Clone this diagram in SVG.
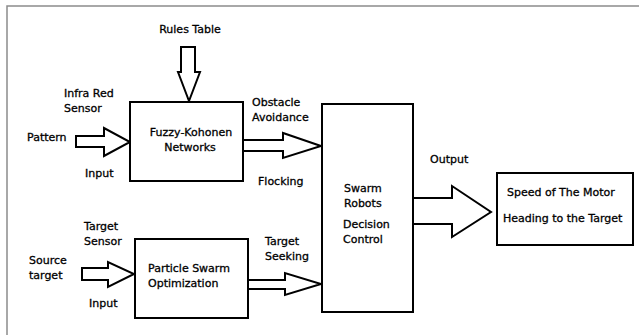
<svg xmlns="http://www.w3.org/2000/svg" width="639" height="335" viewBox="0 0 639 335">
  <style>
    .box { fill: #ffffff; stroke: #000000; stroke-width: 2; }
    .arrow { fill: #ffffff; stroke: #000000; stroke-width: 2; stroke-linejoin: miter; }
    text { font-family: "DejaVu Sans", "Liberation Sans", sans-serif; font-size: 11px; fill: #000000; stroke: #000000; stroke-width: 0.3; }
    .c { text-anchor: middle; }
    .frame { fill: none; stroke: #8c8c8c; stroke-width: 1.5; }
  </style>
  <rect width="639" height="335" fill="#ffffff"/>
  <!-- page frame -->
  <polyline class="frame" points="7,335 7,6 639,6"/>

  <!-- block arrows -->
  <g id="connectors">
    <polygon class="arrow" points="181,47 195,47 195,72 200,72 189,101 178,72 181,72"/>
    <polygon class="arrow" points="76,136 104,136 104,128 130,142 104,156 104,147 76,147"/>
    <polygon class="arrow" points="243,140 283,140 283,133 321,146 283,158 283,151 243,151"/>
    <polygon class="arrow" points="82,268 108,268 108,262 134,274 108,287 108,280 82,280"/>
    <polygon class="arrow" points="248,280 285,280 285,273 321,284 285,295 285,289 248,289"/>
    <polygon class="arrow" points="413,198 452,198 452,186 491,212 452,237 452,224 413,224"/>
  </g>

  <g id="fuzzy-kohonen">
    <rect class="box" x="130" y="102" width="113" height="79"/>
    <text class="c" x="191" y="136">Fuzzy-Kohonen</text>
    <text class="c" x="190" y="151">Networks</text>
  </g>

  <g id="pso">
    <rect class="box" x="135" y="239" width="113" height="79"/>
    <text x="148" y="272">Particle Swarm</text>
    <text x="148" y="287">Optimization</text>
  </g>

  <g id="swarm-robots">
    <rect class="box" x="322" y="104" width="91" height="208"/>
    <text x="344" y="192">Swarm</text>
    <text x="344" y="207">Robots</text>
    <text x="343" y="228">Decision</text>
    <text x="343" y="243">Control</text>
  </g>

  <g id="motor-output">
    <rect class="box" x="497" y="173" width="136" height="72"/>
    <text x="507" y="196">Speed of The Motor</text>
    <text x="503" y="222">Heading to the Target</text>
  </g>

  <!-- labels -->
  <g id="labels">
    <text class="c" x="190" y="33">Rules Table</text>
    <text x="64" y="97">Infra Red</text>
    <text x="64" y="112">Sensor</text>
    <text x="27" y="141">Pattern</text>
    <text x="85" y="177">Input</text>
    <text x="252" y="106">Obstacle</text>
    <text x="252" y="121">Avoidance</text>
    <text x="258" y="185">Flocking</text>
    <text x="84" y="230">Target</text>
    <text x="84" y="245">Sensor</text>
    <text x="29" y="264">Source</text>
    <text x="29" y="279">target</text>
    <text x="89" y="307">Input</text>
    <text x="265" y="245">Target</text>
    <text x="265" y="260">Seeking</text>
    <text x="430" y="163">Output</text>
  </g>
</svg>
